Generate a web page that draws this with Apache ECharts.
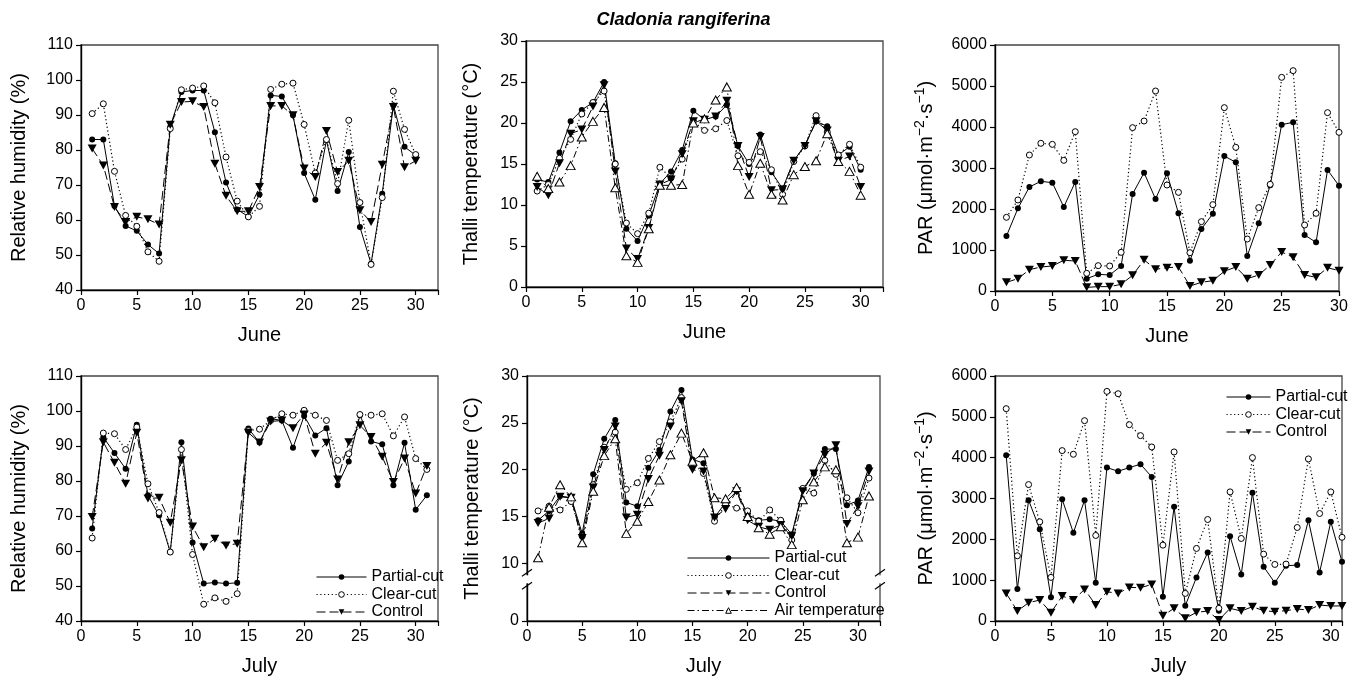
<!DOCTYPE html>
<html><head><meta charset="utf-8">
<script src="https://cdn.jsdelivr.net/npm/echarts@6/dist/echarts.min.js"></script>
<style>html,body{margin:0;padding:0;background:#fff}#c{width:1367px;height:682px}</style>
</head><body><div id="c"></div>
<script>
// ---------- data ----------
const juneDays = [1,2,3,4,5,6,7,8,9,10,11,12,13,14,15,16,17,18,19,20,21,22,23,24,25,26,27,28,29,30];
const julyDays = [1,2,3,4,5,6,7,8,9,10,11,12,13,14,15,16,17,18,19,20,21,22,23,24,25,26,27,28,29,30,31];
const seriesNames = ['Partial-cut','Clear-cut','Control','Air temperature'];

const rhJunePartial = [83.0,83.0,64.0,58.3,56.9,53.0,50.4,86.6,96.6,97.0,97.0,85.1,70.7,63.0,61.0,67.3,95.6,95.3,89.9,73.4,65.8,82.8,68.3,79.4,58.0,47.5,67.5,92.8,80.9,78.5];
const rhJuneClear   = [90.4,93.2,73.9,61.3,58.2,50.9,48.2,86.1,97.2,97.7,98.3,93.5,78.0,65.4,60.9,63.9,97.3,98.8,99.1,87.3,73.4,83.0,70.4,88.5,65.0,47.3,66.4,96.8,85.9,78.7];
const rhJuneControl = [80.4,75.6,63.7,59.4,60.9,60.2,58.7,87.2,93.7,93.9,92.3,76.1,66.9,62.5,62.5,69.4,92.6,92.6,89.9,74.7,72.3,85.4,73.7,76.9,62.8,59.4,75.8,92.3,75.1,76.9];

const tJunePartial = [13.1,12.8,16.4,20.2,21.6,22.5,25.0,15.1,7.1,5.6,8.7,12.6,14.1,16.7,21.5,20.4,20.8,22.2,17.2,15.0,18.6,14.0,12.0,15.4,17.3,20.2,19.6,16.1,17.1,14.3];
const tJuneClear   = [11.7,12.5,15.7,18.0,21.1,22.5,23.9,15.0,7.8,6.5,9.0,14.6,13.3,15.6,20.2,19.1,19.3,20.3,16.0,15.2,16.5,14.3,11.3,15.3,17.2,20.9,18.9,16.1,17.4,14.6];
const tJuneControl = [12.2,11.2,15.1,18.7,19.2,22.0,24.6,14.1,4.7,3.4,7.2,12.5,13.1,16.2,20.2,20.4,20.8,22.7,17.2,13.4,18.3,11.8,11.9,15.4,17.2,20.2,19.1,15.4,15.9,12.2];
const tJuneAir     = [13.5,12.0,12.8,14.8,18.3,20.2,21.9,12.1,3.8,3.0,7.1,12.4,12.4,12.5,20.0,20.5,22.8,24.4,14.8,11.3,15.1,11.3,10.6,13.7,14.7,15.4,18.7,15.3,14.1,11.2];

const parJunePartial = [1341,2016,2537,2675,2642,2049,2659,301,407,390,610,2366,2886,2244,2870,1894,740,1512,1886,3293,3138,854,1650,2580,4057,4114,1366,1187,2951,2569];
const parJuneClear   = [1797,2220,3317,3602,3577,3187,3886,431,618,610,943,3984,4146,4878,2585,2407,935,1691,2106,4472,3504,1268,2033,2602,5211,5374,1610,1894,4350,3870];
const parJuneControl = [211,301,520,585,610,748,732,89,106,106,163,382,760,528,569,585,122,211,252,480,585,301,390,634,951,821,390,333,569,496];

const rhJulyPartial = [66.4,92.5,88.0,83.5,96.1,75.9,70.2,59.7,91.1,62.4,50.7,51.0,50.7,50.9,95.0,91.0,97.8,97.3,89.5,98.6,93.0,95.1,78.8,85.6,98.8,91.3,90.5,78.8,90.9,71.8,75.9];
const rhJulyClear   = [63.7,93.7,93.5,89.0,95.4,79.2,71.0,59.7,89.0,59.0,44.8,46.6,45.6,47.8,94.4,94.8,97.3,99.2,98.8,100.2,98.8,97.3,85.9,87.8,99.0,98.8,99.2,92.9,98.3,86.4,83.3];
const rhJulyControl = [69.7,91.1,85.2,79.2,93.8,75.0,75.2,68.1,85.9,67.0,61.1,63.5,61.6,62.1,93.8,91.0,97.0,97.3,95.1,99.0,87.8,90.9,80.4,91.1,95.9,92.6,86.9,79.7,86.4,76.4,84.3];

const tJulyPartial = [14.6,15.6,17.2,17.0,13.2,19.5,23.3,25.3,16.5,16.1,20.2,22.1,26.2,28.5,21.1,20.7,14.9,16.5,17.7,15.2,14.6,14.7,14.5,13.1,17.9,19.6,22.2,22.2,16.2,16.7,20.3];
const tJulyClear   = [15.6,16.1,15.7,16.6,12.9,18.4,22.4,24.0,17.9,18.6,21.2,23.0,25.1,27.7,20.8,19.6,14.5,16.3,15.9,15.6,14.5,15.7,14.6,12.5,18.0,17.5,21.0,19.5,17.0,15.4,19.1];
const tJulyControl = [14.3,14.8,17.1,17.0,12.7,18.1,22.1,24.6,14.9,15.2,19.0,21.5,24.6,27.3,20.0,19.8,14.9,15.8,17.7,14.6,13.9,13.6,14.1,12.9,17.7,19.6,21.6,22.6,14.2,16.1,19.8];
const tJulyAir     = [10.6,16.0,18.4,17.1,12.2,17.7,21.5,23.3,13.2,14.5,16.6,18.9,21.6,23.9,20.9,21.8,17.0,16.9,18.1,15.0,13.8,13.1,13.9,12.0,16.8,18.7,20.3,20.0,12.2,12.8,17.2];

const parJulyPartial = [4059,782,2958,2249,579,2983,2160,2958,937,3757,3667,3757,3839,3529,595,2795,375,1068,1679,253,2078,1141,3138,1328,937,1353,1369,2469,1190,2429,1450];
const parJulyClear   = [5200,1597,3341,2429,1068,4173,4083,4906,2095,5623,5566,4808,4540,4262,1858,4140,676,1777,2486,310,3162,2021,4002,1638,1385,1394,2290,3969,2632,3162,2050];
const parJulyControl = [676,244,448,513,204,611,513,774,391,717,676,823,815,896,130,310,65,212,244,24,310,244,350,253,228,253,293,269,391,367,370];

// broken axis (bottom-middle): axis value at which the "0" label sits
const BREAK_AT = 3.85;
const BREAK_MARK = 8.3;
const brokenTickValues = [BREAK_AT, 10, 15, 20, 25, 30];

const PAR_NAME = 'PAR (μmol·m{sup|−2}·s{sup|−1})';

// ---------- styles ----------
const FONT = "'Liberation Sans', Arial, Helvetica, sans-serif";
const INV_TRI = 'path://M0,0L10,0L5,8.7Z';
const styles = {
  'Partial-cut': {symbol:'circle', symbolSize:6, itemStyle:{color:'#000'}, lineStyle:{color:'#000', width:1, type:'solid'}},
  'Clear-cut': {symbol:'circle', symbolSize:6, itemStyle:{color:'#fff', borderColor:'#000', borderWidth:1}, lineStyle:{color:'#000', width:1.2, type:[1.2,2.6]}},
  'Control': {symbol:INV_TRI, symbolSize:[9,8], itemStyle:{color:'#000'}, lineStyle:{color:'#000', width:1, type:[9,4]}},
  'Air temperature': {symbol:'triangle', symbolSize:[9,8], itemStyle:{color:'#fff', borderColor:'#000', borderWidth:1}, lineStyle:{color:'#000', width:1, type:[7,3,1.5,3]}}
};
function mk(name, idx, days, vals) {
  const s = styles[name];
  return Object.assign({
    type:'line', name, xAxisIndex:idx, yAxisIndex:idx, showAllSymbol:true,
    data: days.map((d,i)=>[d, vals[i]]), z: 3
  }, JSON.parse(JSON.stringify(s)));
}

const grids = [
  {left:81, top:45, width:357, height:245},
  {left:526, top:41, width:357, height:246},
  {left:995, top:45, width:344, height:246},
  {left:81, top:376, width:357, height:245},
  {left:527, top:376, width:353, height:245},
  {left:995, top:376, width:347, height:245}
].map(g => Object.assign({show:true, borderColor:'#444', borderWidth:1.3, backgroundColor:'transparent'}, g));

const NAME_FS = 20;
const axisCommon = {
  axisLine:{show:true, onZero:false, lineStyle:{color:'#000', width:1.4}},
  axisTick:{show:true, inside:false, length:5, lineStyle:{color:'#000', width:1.2}},
  splitLine:{show:false},
  nameTextStyle:{color:'#000', fontSize:NAME_FS, fontFamily:FONT},
  nameLocation:'middle'
};
function xAx(idx, max, name) {
  return Object.assign({}, JSON.parse(JSON.stringify(axisCommon)), {
    type:'value', gridIndex:idx, min:0, max, interval:5, name, nameGap:35,
    axisLabel:{color:'#000', fontSize:16, fontFamily:FONT, margin:8, formatter:v => v % 5 === 0 ? String(v) : ''}
  });
}
function yAx(idx, min, max, interval, name, gap) {
  return Object.assign({}, JSON.parse(JSON.stringify(axisCommon)), {
    type:'value', gridIndex:idx, min, max, interval, name, nameGap:gap, nameRotate:90,
    axisLabel:{color:'#000', fontSize:16, fontFamily:FONT, margin:8, formatter:v => String(v)}
  });
}
function parAx(idx) {
  const a = yAx(idx, 0, 6000, 1000, PAR_NAME, 56);
  a.nameTextStyle = {color:'#000', fontSize:NAME_FS, fontFamily:FONT, lineHeight:26,
    rich:{sup:{fontSize:14, fontFamily:FONT, color:'#000', verticalAlign:'top', lineHeight:26}}};
  return a;
}

const xAxes = [
  xAx(0, 32, 'June'), xAx(1, 32, 'June'), xAx(2, 30, 'June'),
  xAx(3, 32, 'July'), xAx(4, 32, 'July'), xAx(5, 31, 'July')
];
const yBroken = yAx(4, BREAK_AT, 30, null, 'Thalli temperature (°C)', 45);
delete yBroken.interval;
yBroken.axisLabel.customValues = brokenTickValues;
yBroken.axisLabel.formatter = v => Math.abs(v - BREAK_AT) < 1e-6 ? '0' : String(v);
yBroken.axisTick.customValues = brokenTickValues;
const yAxes = [
  yAx(0, 40, 110, 10, 'Relative humidity (%)', 52),
  yAx(1, 0, 30, 5, 'Thalli temperature (°C)', 45),
  parAx(2),
  yAx(3, 40, 110, 10, 'Relative humidity (%)', 52),
  yBroken,
  parAx(5)
];

const series = [
  mk('Partial-cut',0,juneDays,rhJunePartial), mk('Clear-cut',0,juneDays,rhJuneClear), mk('Control',0,juneDays,rhJuneControl),
  mk('Partial-cut',1,juneDays,tJunePartial), mk('Clear-cut',1,juneDays,tJuneClear), mk('Control',1,juneDays,tJuneControl), mk('Air temperature',1,juneDays,tJuneAir),
  mk('Partial-cut',2,juneDays,parJunePartial), mk('Clear-cut',2,juneDays,parJuneClear), mk('Control',2,juneDays,parJuneControl),
  mk('Partial-cut',3,julyDays,rhJulyPartial), mk('Clear-cut',3,julyDays,rhJulyClear), mk('Control',3,julyDays,rhJulyControl),
  mk('Partial-cut',4,julyDays,tJulyPartial), mk('Clear-cut',4,julyDays,tJulyClear), mk('Control',4,julyDays,tJulyControl), mk('Air temperature',4,julyDays,tJulyAir),
  mk('Partial-cut',5,julyDays,parJulyPartial), mk('Clear-cut',5,julyDays,parJulyClear), mk('Control',5,julyDays,parJulyControl)
];

function legend(left, top, w, names) {
  return {show:true, orient:'vertical', left, top, itemWidth:w, itemHeight:7, itemGap:1.5, selectedMode:false,
    data:names, lineStyle:{width:1}, itemStyle:{borderWidth:1},
    textStyle:{color:'#000', fontSize:16, fontFamily:FONT, lineHeight:16}, padding:0, align:'left'};
}

const chart = echarts.init(document.getElementById('c'), null, {renderer:'canvas'});
chart.setOption({
  animation:false,
  backgroundColor:'#fff',
  title:{text:'Cladonia rangiferina', left:'center', top:6, textStyle:{fontSize:18, fontWeight:'bold', fontStyle:'italic', fontFamily:FONT, color:'#000'}},
  grid:grids, xAxis:xAxes, yAxis:yAxes, series,
  legend:[
    legend(316, 569, 50, seriesNames.slice(0,3)),
    legend(687, 550, 82, seriesNames),
    legend(1226, 389, 44, seriesNames.slice(0,3))
  ]
});

// axis break decoration on bottom-middle panel
const pl = chart.convertToPixel({gridIndex:4}, [0, BREAK_MARK]);
const pr = chart.convertToPixel({gridIndex:4}, [32, BREAK_MARK]);
function breakMarks(x, y) {
  return [
    {type:'rect', shape:{x:x-4, y:y-4, width:8, height:8}, style:{fill:'#fff'}, z:100},
    {type:'line', shape:{x1:x-5, y1:y-3, x2:x+5, y2:y-10}, style:{stroke:'#000', lineWidth:1.2}, z:101},
    {type:'line', shape:{x1:x-5, y1:y+10, x2:x+5, y2:y+3}, style:{stroke:'#000', lineWidth:1.2}, z:101}
  ];
}
chart.setOption({graphic:{elements: breakMarks(pl[0], pl[1]).concat(breakMarks(pr[0], pr[1]))}});
</script>
</body></html>
